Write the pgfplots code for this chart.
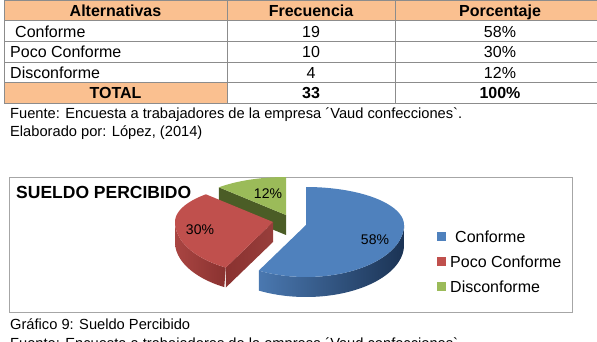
\documentclass[border=0pt]{standalone}
\usepackage{pgfplots}
\pgfplotsset{compat=1.18}
\usepackage{fontspec}
\setmainfont{Liberation Sans}
\newfontfamily\plainlib{Liberation Sans}
\definecolor{hdr}{HTML}{FAC090}
\definecolor{bTop}{HTML}{4F81BD}
\definecolor{bSideL}{HTML}{4A78B0}
\definecolor{bSideR}{HTML}{1B3354}
\definecolor{rTop}{HTML}{C0504D}
\definecolor{rSideL}{HTML}{A94542}
\definecolor{rSideR}{HTML}{8A3230}
\definecolor{gTop}{HTML}{9BBB59}
\definecolor{gSide}{HTML}{4B5D26}
\definecolor{tblline}{HTML}{8C8C8C}
\definecolor{boxline}{HTML}{A6A6A6}
\newcommand\fs[1]{\fontsize{#1bp}{#1bp}\selectfont}
\newcommand\gr{{\plainlib\symbol{96}}}

% data (percentages of the pie)
\def\pConf{58}\def\pPoco{30}\def\pDisc{12}
% geometry of the 3D pie (pixels)
\def\rx{98}\def\h{20}
\def\bx{306}\def\by{225}  % apex Conforme
\def\rcx{273}\def\rcy{222} % apex Poco Conforme
\def\gx{286}\def\gy{215}  % apex Disconforme
\pgfmathsetmacro\aA{90-3.6*\pConf}
\pgfmathsetmacro\aB{\aA-3.6*\pPoco}
\pgfmathsetmacro\aC{\aB-3.6*\pDisc}
\pgfmathsetmacro\rS{\aB+360}
\pgfmathsetmacro\rE{\aA+360}
\pgfmathsetmacro\gS{\aC+360}
\pgfmathsetmacro\gE{\aB+360}
% radial face points
\pgfmathsetmacro\rfx{\rcx+\rx*cos(\rE)}
\pgfmathsetmacro\rfy{\rcy-52*sin(\rE)}
\pgfmathsetmacro\rfyb{\rfy+\h}
\pgfmathsetmacro\rcyb{\rcy+\h}
\pgfmathsetmacro\gfx{\gx+\rx*cos(\gE)}
\pgfmathsetmacro\gfy{\gy-38*sin(\gE)}
\pgfmathsetmacro\gfyb{\gfy+\h}
\pgfmathsetmacro\gyb{\gy+\h}

\begin{document}
\begin{tikzpicture}
\useasboundingbox (0,0) rectangle (597bp,342bp);
\clip (0,0) rectangle (597bp,342bp);
\begin{axis}[at={(0,0)}, anchor=south west, width=597bp, height=342bp,
  scale only axis, xmin=0, xmax=597, ymin=0, ymax=342, y dir=reverse,
  hide axis, clip=false,
  declare function={ryf(\t)=(sin(\t)>0)*38+(sin(\t)<=0)*52;}]

% ---------- table ----------
\fill[hdr] (axis cs:4,0.5) rectangle (axis cs:605,20.5);
\fill[hdr] (axis cs:4,82.5) rectangle (axis cs:227,103);
\draw[tblline, line width=0.7bp] (axis cs:4,20.5) -- (axis cs:605,20.5)
  (axis cs:4,41.5) -- (axis cs:605,41.5)
  (axis cs:4,62) -- (axis cs:605,62)
  (axis cs:4,82.5) -- (axis cs:605,82.5)
  (axis cs:227,0.5) -- (axis cs:227,103)
  (axis cs:395,0.5) -- (axis cs:395,103);
\draw[tblline, line width=0.8bp] (axis cs:4,0.5) rectangle (axis cs:605,103);

\node[anchor=base, inner sep=0] at (axis cs:115.5,16.7) {\fs{16}\bfseries Alternativas};
\node[anchor=base, inner sep=0] at (axis cs:311,16.7) {\fs{16}\bfseries Frecuencia};
\node[anchor=base, inner sep=0] at (axis cs:500,16.7) {\fs{16}\bfseries Porcentaje};
\node[anchor=base west, inner sep=0] at (axis cs:15,37.3) {\fs{16}Conforme};
\node[anchor=base, inner sep=0] at (axis cs:311,37.3) {\fs{16}19};
\node[anchor=base, inner sep=0] at (axis cs:500,37.3) {\fs{16}58\%};
\node[anchor=base west, inner sep=0] at (axis cs:10,58) {\fs{16}Poco Conforme};
\node[anchor=base, inner sep=0] at (axis cs:311,58) {\fs{16}10};
\node[anchor=base, inner sep=0] at (axis cs:500,58) {\fs{16}30\%};
\node[anchor=base west, inner sep=0] at (axis cs:10,78.8) {\fs{16}Disconforme};
\node[anchor=base, inner sep=0] at (axis cs:311,78.8) {\fs{16}4};
\node[anchor=base, inner sep=0] at (axis cs:500,78.8) {\fs{16}12\%};
\node[anchor=base, inner sep=0] at (axis cs:115.5,99) {\fs{16}\bfseries TOTAL};
\node[anchor=base, inner sep=0] at (axis cs:311,99) {\fs{16}\bfseries 33};
\node[anchor=base, inner sep=0] at (axis cs:500,99) {\fs{16}\bfseries 100\%};

\node[anchor=base west, inner sep=0] at (axis cs:10,119) {\fs{14.67}Fuente: Encuesta a trabajadores de la empresa ´Vaud confecciones\gr.};
\node[anchor=base west, inner sep=0] at (axis cs:10,136) {\fs{14.67}Elaborado por: López, (2014)};

% ---------- chart box ----------
\draw[boxline, line width=0.9bp] (axis cs:9,177) rectangle (axis cs:572,312);
\node[anchor=base west, inner sep=0] at (axis cs:16,198) {\fs{17.5}\bfseries SUELDO PERCIBIDO};

% ---------- Disconforme (green) ----------
\addplot[fill=gSide, draw=none, forget plot] coordinates
  {(\gx,\gy) (\gfx,\gfy) (\gfx,\gfyb) (\gx,\gyb)} -- cycle;
\addplot[fill=gTop, draw=none, domain=\gS:\gE, samples=40, forget plot]
  ({\gx+\rx*cos(x)},{\gy-ryf(x)*sin(x)}) -- (axis cs:\gx,\gy) -- cycle;

% ---------- Poco Conforme (red) ----------
\addplot[left color=rSideL, right color=rSideR, draw=none, domain=0:2, samples=121, variable=\t, forget plot]
  ({\rcx+\rx*cos(180+(\rE-180)*min(\t,2-\t))},
   {\rcy-ryf(180+(\rE-180)*min(\t,2-\t))*sin(180+(\rE-180)*min(\t,2-\t))+\h*(\t>1)}) -- cycle;
\addplot[left color=rSideR, right color=rSideL!90!black, draw=none, forget plot] coordinates
  {(\rcx,\rcy) (\rfx,\rfy) (\rfx,\rfyb) (\rcx,\rcyb)} -- cycle;
\addplot[fill=rTop, draw=none, domain=\rS:\rE, samples=60, forget plot]
  ({\rcx+\rx*cos(x)},{\rcy-ryf(x)*sin(x)}) -- (axis cs:\rcx,\rcy) -- cycle;

% ---------- Conforme (blue) ----------
\addplot[left color=bSideL, right color=bSideR, draw=none, domain=0:2, samples=161, variable=\t, forget plot]
  ({\bx+\rx*cos(\aA+(0-\aA)*min(\t,2-\t))},
   {\by-ryf(\aA+(0-\aA)*min(\t,2-\t))*sin(\aA+(0-\aA)*min(\t,2-\t))+\h*(\t>1)}) -- cycle;
\addplot[fill=bTop, draw=none, domain=\aA:90, samples=90, forget plot]
  ({\bx+\rx*cos(x)},{\by-ryf(x)*sin(x)}) -- (axis cs:\bx,\by) -- cycle;

% labels
\node[inner sep=0] at (axis cs:375,240) {\fs{14}58\%};
\node[inner sep=0] at (axis cs:200,230) {\fs{14}30\%};
\node[inner sep=0] at (axis cs:268,194) {\fs{14}12\%};

% ---------- legend ----------
\addplot[only marks, mark=square*, mark size=4bp, color=bTop, forget plot] coordinates {(441,236)};
\addplot[only marks, mark=square*, mark size=4bp, color=rTop, forget plot] coordinates {(441,261)};
\addplot[only marks, mark=square*, mark size=4bp, color=gTop, forget plot] coordinates {(441,286)};
\node[anchor=base west, inner sep=0] at (axis cs:455,242) {\fs{16}Conforme};
\node[anchor=base west, inner sep=0] at (axis cs:450,267) {\fs{16}Poco Conforme};
\node[anchor=base west, inner sep=0] at (axis cs:450,292) {\fs{16}Disconforme};

% ---------- captions ----------
\node[anchor=base west, inner sep=0] at (axis cs:10,329) {\fs{14.67}Gráfico 9: Sueldo Percibido};
\node[anchor=base west, inner sep=0] at (axis cs:10,348.5) {\fs{14.67}Fuente: Encuesta a trabajadores de la empresa ´Vaud confecciones\gr.};
\end{axis}
\end{tikzpicture}
\end{document}
